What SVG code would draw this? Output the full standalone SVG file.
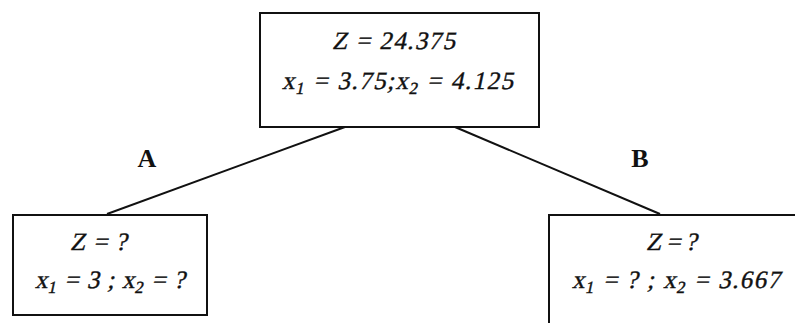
<svg xmlns="http://www.w3.org/2000/svg" width="795" height="323" viewBox="0 0 795 323">
<style>
.box{fill:#fff;stroke:#111;stroke-width:2}
.t{font-family:"Liberation Serif","Times New Roman",serif;font-size:25px;fill:#111;stroke:#111;stroke-width:0.4}
.lbl{font-family:"Liberation Serif","Times New Roman",serif;font-size:26px;font-weight:bold;fill:#111}
.edge{stroke:#111;stroke-width:2;fill:none}
</style>
<rect width="795" height="323" fill="#fff"/>
<g id="connectors">
<line class="edge" x1="345" y1="127" x2="107" y2="214"/>
<line class="edge" x1="455" y1="127" x2="660" y2="214"/>
<text class="lbl" x="147" y="167" text-anchor="middle">A</text>
<text class="lbl" x="640" y="167" text-anchor="middle">B</text>
</g>
<g id="root">
<rect class="box" x="260" y="13" width="279" height="114"/>
<text class="t" transform="skewX(-12)" x="342.4" y="49" textLength="123" lengthAdjust="spacing">Z = 24.375</text>
<text class="t" transform="skewX(-12)" x="300.9" y="89" textLength="231" lengthAdjust="spacing">x<tspan font-size="17" dy="5">1</tspan><tspan dy="-5"> = 3.75;x</tspan><tspan font-size="17" dy="5">2</tspan><tspan dy="-5"> = 4.125</tspan></text>
</g>
<g id="nodeA">
<rect class="box" x="13" y="215" width="194" height="100"/>
<text class="t" transform="skewX(-12)" x="123.1" y="250" textLength="57" lengthAdjust="spacing">Z = ?</text>
<text class="t" transform="skewX(-12)" x="96.2" y="288" textLength="150" lengthAdjust="spacing">x<tspan font-size="17" dy="5">1</tspan><tspan dy="-5"> = 3 ; x</tspan><tspan font-size="17" dy="5">2</tspan><tspan dy="-5"> = ?</tspan></text>
</g>
<g id="nodeB">
<rect class="box" x="549" y="215" width="260" height="120"/>
<text class="t" transform="skewX(-12)" x="699.1" y="250" textLength="51" lengthAdjust="spacing">Z = ?</text>
<text class="t" transform="skewX(-12)" x="633.2" y="288" textLength="208" lengthAdjust="spacing">x<tspan font-size="17" dy="5">1</tspan><tspan dy="-5"> = ? ; x</tspan><tspan font-size="17" dy="5">2</tspan><tspan dy="-5"> = 3.667</tspan></text>
</g>
</svg>
